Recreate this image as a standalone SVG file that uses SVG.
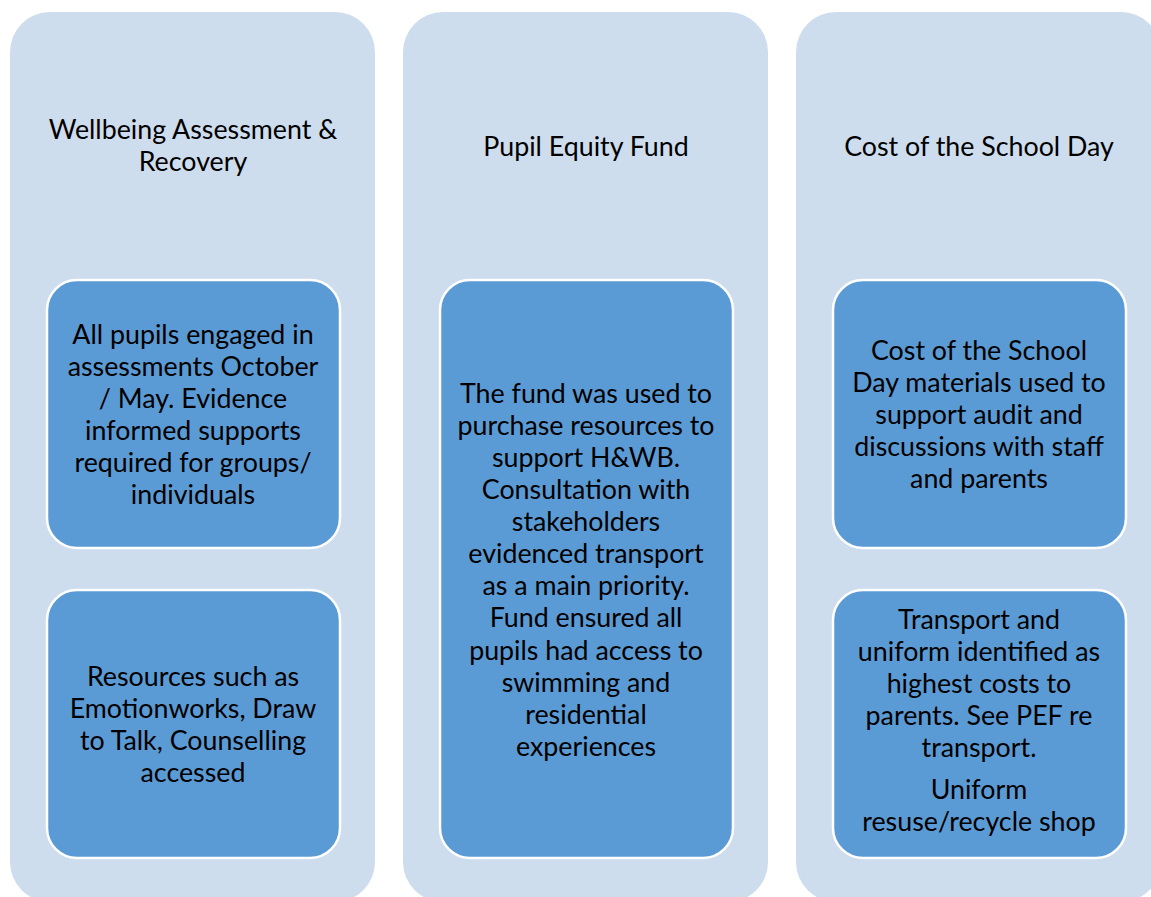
<svg xmlns="http://www.w3.org/2000/svg" width="1151" height="897" viewBox="0 0 1151 897">
<style>
.col{fill:#CEDDED;}
.box{fill:#5B9BD5;stroke:#FFFFFF;stroke-width:2.5;}
text{font-family:Lato,"Liberation Sans",sans-serif;font-size:26.8px;fill:#000;text-anchor:middle;}
</style>
<rect width="1151" height="897" fill="#FFFFFF"/>
<g id="col1">
<rect class="col" x="10" y="12" width="365" height="890" rx="40"/>
<text x="193" y="139">Wellbeing Assessment &amp;</text>
<text x="193" y="171">Recovery</text>
</g>
<g id="col2">
<rect class="col" x="403" y="12" width="365" height="890" rx="40"/>
<text x="586" y="156">Pupil Equity Fund</text>
</g>
<g id="col3">
<rect class="col" x="796" y="12" width="365" height="890" rx="40"/>
<text x="979" y="156">Cost of the School Day</text>
</g>
<g id="box1">
<rect class="box" x="47" y="280" width="293" height="268" rx="30"/>
<text x="193" y="344">All pupils engaged in</text>
<text x="193" y="376">assessments October</text>
<text x="193" y="408">/ May. Evidence</text>
<text x="193" y="440">informed supports</text>
<text x="193" y="472">required for groups/</text>
<text x="193" y="504">individuals</text>
</g>
<g id="box2">
<rect class="box" x="47" y="590" width="293" height="268" rx="30"/>
<text x="193" y="686">Resources such as</text>
<text x="193" y="718">Emotionworks, Draw</text>
<text x="193" y="750">to Talk, Counselling</text>
<text x="193" y="782">accessed</text>
</g>
<g id="box3">
<rect class="box" x="440" y="280" width="293" height="578" rx="30"/>
<text x="586" y="403">The fund was used to</text>
<text x="586" y="435">purchase resources to</text>
<text x="586" y="467">support H&amp;WB.</text>
<text x="586" y="499">Consultation with</text>
<text x="586" y="531">stakeholders</text>
<text x="586" y="563">evidenced transport</text>
<text x="586" y="595">as a main priority.</text>
<text x="586" y="627">Fund ensured all</text>
<text x="586" y="660">pupils had access to</text>
<text x="586" y="692">swimming and</text>
<text x="586" y="724">residential</text>
<text x="586" y="756">experiences</text>
</g>
<g id="box4">
<rect class="box" x="833" y="280" width="293" height="268" rx="30"/>
<text x="979" y="360">Cost of the School</text>
<text x="979" y="392">Day materials used to</text>
<text x="979" y="424">support audit and</text>
<text x="979" y="456">discussions with staff</text>
<text x="979" y="488">and parents</text>
</g>
<g id="box5">
<rect class="box" x="833" y="590" width="293" height="268" rx="30"/>
<text x="979" y="629">Transport and</text>
<text x="979" y="661">uniform identified as</text>
<text x="979" y="693">highest costs to</text>
<text x="979" y="725">parents. See PEF re</text>
<text x="979" y="757">transport.</text>
<text x="979" y="799">Uniform</text>
<text x="979" y="831">resuse/recycle shop</text>
</g>
<g id="connectors"></g>
</svg>
